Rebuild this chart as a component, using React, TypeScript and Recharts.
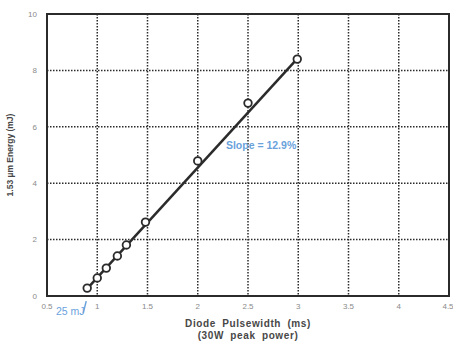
import React from 'react';
import {
  ComposedChart, Line, Scatter, XAxis, YAxis, CartesianGrid, ReferenceDot,
} from 'recharts';

// measured points: diode pulsewidth (ms) vs 1.53 um energy (mJ)
const pulseWidth = [0.9, 1.0, 1.09, 1.2, 1.29, 1.48, 2.0, 2.5, 2.99];
const energy = [0.28, 0.64, 0.99, 1.42, 1.81, 2.62, 4.79, 6.84, 8.4];

// straight-line fit drawn through the points
const fitX = [0.9, 3.0];
const fitY = [0.26, 8.45];

const xTicks = [0.5, 1, 1.5, 2, 2.5, 3, 3.5, 4, 4.5];
const yTicks = [0, 2, 4, 6, 8, 10];
const xDomain = [0.5, 4.5];
const yDomain = [0, 10];

const points = pulseWidth.map((x, i) => ({ x, y: energy[i] }));
const fitLine = fitX.map((x, i) => ({ x, y: fitY[i] }));

const W = 453;
const H = 343;
const M = { top: 14, right: 4, bottom: 0, left: 0 };
const Y_AXIS_W = 47;
const X_AXIS_H = 47;

const BLUE = '#6aa2dc';
const INK = '#2b2b2b';
const FONT = 'Liberation Sans, Arial';

const SlopeLabel = (props: any) => (
  <text x={props.cx} y={props.cy} textAnchor="middle" dominantBaseline="middle"
    fill={BLUE} fontSize={10.5} fontWeight="bold" fontFamily={FONT}>
    Slope = 12.9%
  </text>
);

const ThresholdNote = (props: any) => (
  <g>
    <line x1={props.cx - 1} y1={props.cy + 13} x2={props.cx - 4} y2={props.cy + 25}
      stroke={BLUE} strokeWidth={1.5} />
    <text x={props.cx - 17} y={props.cy + 27} textAnchor="middle"
      fill={BLUE} fontSize={10.5} fontFamily={FONT}>
      25 mJ
    </text>
  </g>
);

const tickStyle = { fontSize: 8, fill: '#8a8a8a', fontFamily: FONT };
const titleStyle = { fontSize: 10, fill: '#474747', fontWeight: 'bold', fontFamily: FONT, letterSpacing: 0.6, wordSpacing: 3 };

export default function App() {
  // plot box, from the chart margins and axis sizes
  const boxX = M.left + Y_AXIS_W;
  const boxY = M.top;
  const boxW = W - M.right - boxX;
  const boxH = H - M.bottom - X_AXIS_H - boxY;
  return (
    <div style={{ position: 'absolute', left: 0, top: 0, width: W, height: H, background: '#fff' }}>
      <ComposedChart width={W} height={H} margin={M}>
        <CartesianGrid stroke={INK} strokeDasharray="1.5 1.5" strokeWidth={1.5}
          horizontalValues={[2, 4, 6, 8]} verticalValues={[1, 1.5, 2, 2.5, 3, 3.5, 4]} />
        <XAxis type="number" dataKey="x" domain={xDomain} ticks={xTicks} allowDataOverflow
          height={X_AXIS_H} axisLine={{ stroke: INK, strokeWidth: 2 }} tickLine={false} tick={tickStyle} tickMargin={1}
          label={{ value: 'Diode  Pulsewidth (ms)', position: 'insideBottom', offset: 16, style: titleStyle }} />
        <YAxis type="number" dataKey="y" domain={yDomain} ticks={yTicks} allowDataOverflow
          width={Y_AXIS_W} axisLine={{ stroke: INK, strokeWidth: 2 }} tickLine={false} tick={tickStyle} tickMargin={4}
          label={{ value: '1.53 µm Energy (mJ)', angle: -90, position: 'insideLeft', offset: 10,
            style: { fontSize: 8.5, fill: '#474747', fontWeight: 'bold', fontFamily: FONT, textAnchor: 'middle' } }} />
        <rect x={boxX} y={boxY} width={boxW} height={boxH} fill="none" stroke={INK} strokeWidth={2} />
        <text x={248} y={339} textAnchor="middle" style={titleStyle}>(30W peak power)</text>
        <Line data={fitLine} dataKey="y" stroke={INK} strokeWidth={2.5} dot={false}
          isAnimationActive={false} />
        <Scatter data={points} dataKey="y" fill="#fff" stroke={INK} strokeWidth={1.8}
          shape={(p: any) => <circle cx={p.cx} cy={p.cy} r={3.8} fill="#fff" stroke={INK} strokeWidth={1.8} />}
          isAnimationActive={false} />
        <ReferenceDot x={2.63} y={5.32} r={0} shape={SlopeLabel} ifOverflow="visible" />
        <ReferenceDot x={pulseWidth[0]} y={energy[0]} r={0} shape={ThresholdNote} ifOverflow="visible" />
      </ComposedChart>
    </div>
  );
}
